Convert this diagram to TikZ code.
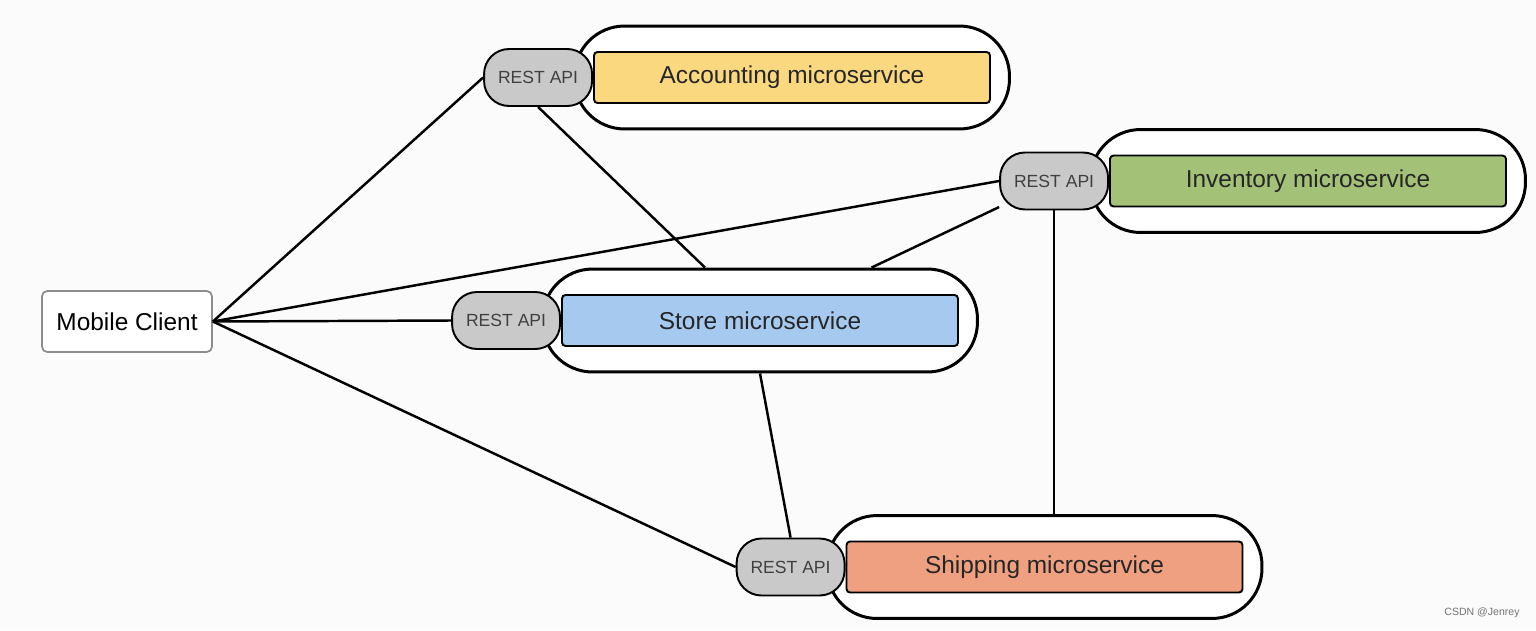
\documentclass[tikz,border=0pt]{standalone}
\usepackage{fontspec}
\setmainfont{Liberation Sans}
\usepackage{tikz}
\usetikzlibrary{positioning,fit,backgrounds}

\definecolor{accyellow}{HTML}{F9D87F}
\definecolor{invgreen}{HTML}{A3C177}
\definecolor{stoblue}{HTML}{A5C9EF}
\definecolor{shipred}{HTML}{EFA080}
\definecolor{apigray}{HTML}{C9C9C9}
\definecolor{bggray}{HTML}{FBFBFB}

\begin{document}
\begin{tikzpicture}[
    svc/.style={draw, line width=1.1pt, rounded corners=2pt, minimum width=7.92cm, minimum height=1.02cm, font=\fontsize{13.9}{16}\selectfont, text=black!85},
    api/.style={draw, line width=1.1pt, fill=apigray, rounded corners=0.5cm, minimum width=2.16cm, minimum height=1.14cm, font=\fontsize{10}{12}\selectfont, text=black!75},
    grp/.style={draw, line width=1.7pt, fill=white, rounded corners=1cm, inner xsep=0.37cm, inner ysep=0.5cm},
    conn/.style={line width=1.4pt}]
    \useasboundingbox (0,0) rectangle (30.72,12.6);
    \begin{scope}[on background layer]
      \fill[bggray] (0,0) rectangle (30.72,12.6);
    \end{scope}

    \node[draw=black!45, line width=1pt, rounded corners=3pt, fill=white, minimum width=3.4cm, minimum height=1.22cm, font=\fontsize{13.9}{16}\selectfont] (mob) at (2.54,6.17) {Mobile Client};

    \node[svc, fill=accyellow] (acc) at (15.84,11.05) {Accounting microservice};
    \node[svc, fill=invgreen] (inv) at (26.16,8.98) {Inventory microservice};
    \node[svc, fill=stoblue] (sto) at (15.2,6.19) {Store microservice};
    \node[svc, fill=shipred] (shi) at (20.89,1.26) {Shipping microservice};

    \node[api, left=0pt of acc] (accapi) {REST API};
    \node[api, left=0pt of inv] (invapi) {REST API};
    \node[api, left=0pt of sto] (stoapi) {REST API};
    \node[api, left=0pt of shi] (shiapi) {REST API};

    \begin{scope}[on background layer]
      \node[grp, fit=(acc)] (accgrp) {};
      \node[grp, fit=(inv)] (invgrp) {};
      \node[grp, fit=(sto)] (stogrp) {};
      \node[grp, fit=(shi)] (shigrp) {};
    \end{scope}

    \draw[conn] (mob.east) -- (accapi.west);
    \draw[conn] (mob.east) -- (invapi.west);
    \draw[conn] (mob.east) -- (stoapi.west);
    \draw[conn] (mob.east) -- (shiapi.west);
    \draw[conn] (accapi.south) -- (stogrp);
    \draw[conn] (invapi) -- (stogrp);
    \draw[conn] (invapi.south) -- (invapi.south |- shigrp.north);
    \draw[conn] (stogrp.south) -- (shiapi.north);

    \node[text=black!55, font=\fontsize{6}{7}\selectfont] (mark) at (29.64,0.34) {CSDN @Jenrey};
  \end{tikzpicture}
\end{document}
